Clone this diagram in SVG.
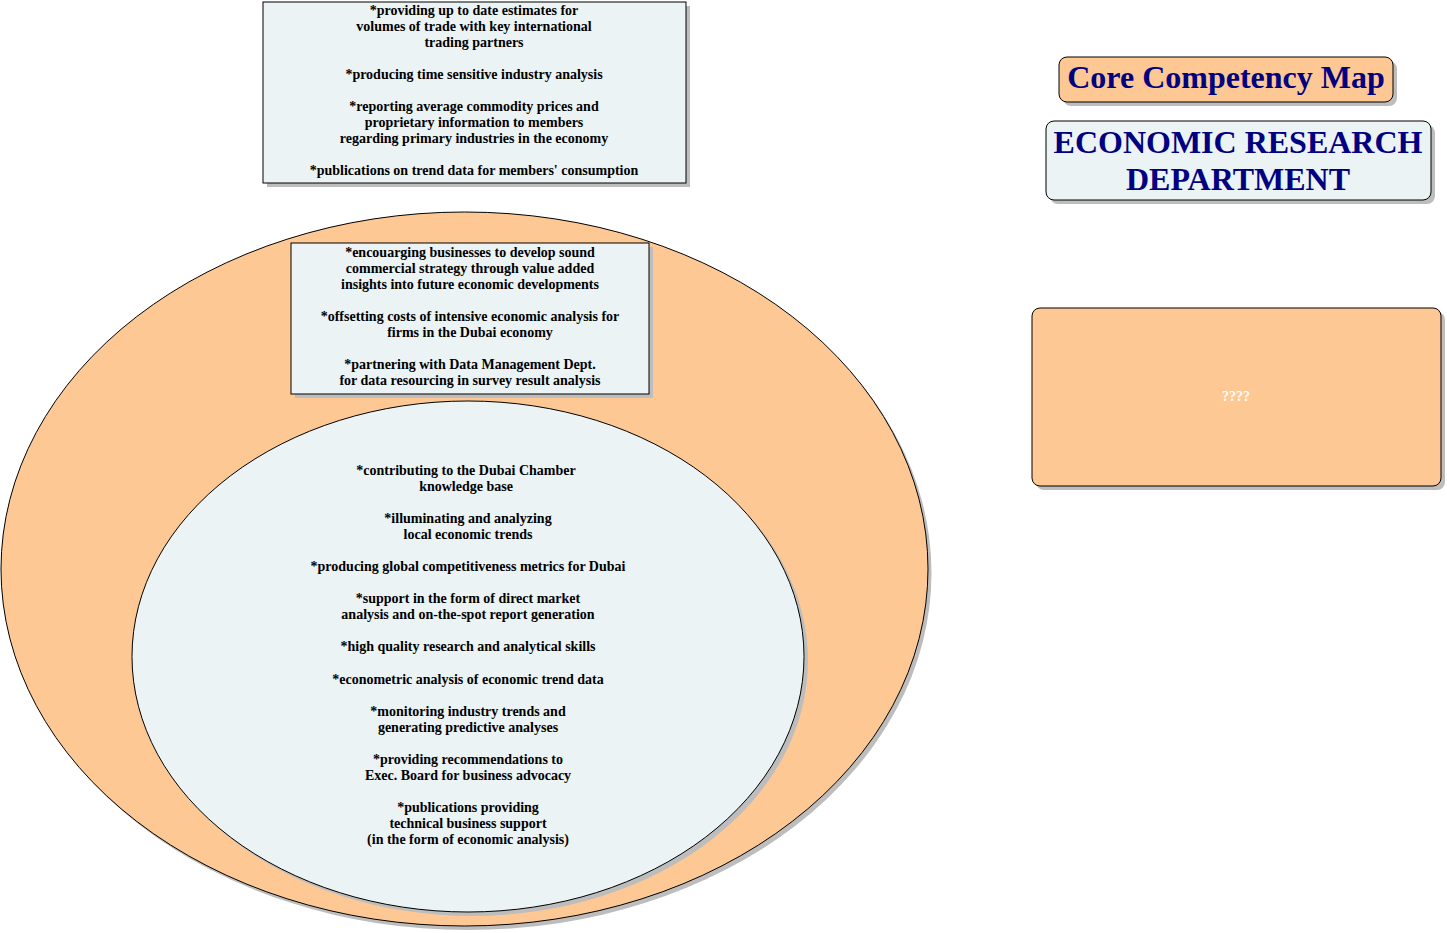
<svg xmlns="http://www.w3.org/2000/svg" width="1447" height="933" viewBox="0 0 1447 933">
<style>
.t{font-family:"Liberation Serif","Times New Roman",serif;font-weight:bold;font-size:14px;fill:#000;text-anchor:middle}
.peach{fill:#FEC894;stroke:#000;stroke-width:1}
.blue{fill:#EBF3F5;stroke:#000;stroke-width:1}
.sh{fill:#BDBDBD}
.h{font-family:"Liberation Serif","Times New Roman",serif;font-weight:bold;fill:#000080;text-anchor:middle}
</style>
<rect width="1447" height="933" fill="#fff"/>
<g id="outer-ellipse">
<ellipse class="sh" cx="468" cy="573" rx="463.5" ry="357"/>
<ellipse class="peach" cx="464.5" cy="569" rx="463.5" ry="357"/>
</g>
<g id="top-box">
<rect class="sh" x="267" y="6" width="423" height="181"/>
<rect class="blue" x="263" y="2" width="423" height="181"/>
<text class="t" x="474" y="14.5">*providing up to date estimates for</text>
<text class="t" x="474" y="30.5">volumes of trade with key international</text>
<text class="t" x="474" y="46.5">trading partners</text>
<text class="t" x="474" y="78.5">*producing time sensitive industry analysis</text>
<text class="t" x="474" y="110.5">*reporting average commodity prices and</text>
<text class="t" x="474" y="126.5">proprietary information to members</text>
<text class="t" x="474" y="142.5">regarding primary industries in the economy</text>
<text class="t" x="474" y="174.5">*publications on trend data for members' consumption</text>
</g>
<g id="middle-box">
<rect class="sh" x="295" y="247" width="358" height="151"/>
<rect class="blue" x="291" y="243" width="358" height="151"/>
<text class="t" x="470" y="256.5">*encouarging businesses to develop sound</text>
<text class="t" x="470" y="272.5">commercial strategy through value added</text>
<text class="t" x="470" y="288.5">insights into future economic developments</text>
<text class="t" x="470" y="320.5">*offsetting costs of intensive economic analysis for</text>
<text class="t" x="470" y="336.5">firms in the Dubai economy</text>
<text class="t" x="470" y="368.5">*partnering with Data Management Dept.</text>
<text class="t" x="470" y="384.5">for data resourcing in survey result analysis</text>
</g>
<g id="inner-ellipse">
<ellipse class="sh" cx="472" cy="660.5" rx="336" ry="255.5"/>
<ellipse class="blue" cx="468" cy="656.5" rx="336" ry="255.5"/>
<text class="t" x="466" y="474.5">*contributing to the Dubai Chamber</text>
<text class="t" x="466" y="490.5">knowledge base</text>
<text class="t" x="468" y="522.5">*illuminating and analyzing</text>
<text class="t" x="468" y="538.5">local economic trends</text>
<text class="t" x="468" y="570.5">*producing global competitiveness metrics for Dubai</text>
<text class="t" x="468" y="602.5">*support in the form of direct market</text>
<text class="t" x="468" y="618.5">analysis and on-the-spot report generation</text>
<text class="t" x="468" y="650.5">*high quality research and analytical skills</text>
<text class="t" x="468" y="683.5">*econometric analysis of economic trend data</text>
<text class="t" x="468" y="715.5">*monitoring industry trends and</text>
<text class="t" x="468" y="731.5">generating predictive analyses</text>
<text class="t" x="468" y="763.5">*providing recommendations to</text>
<text class="t" x="468" y="779.5">Exec. Board for business advocacy</text>
<text class="t" x="468" y="811.5">*publications providing</text>
<text class="t" x="468" y="827.5">technical business support</text>
<text class="t" x="468" y="843.5">(in the form of economic analysis)</text>
</g>
<g id="title">
<rect class="sh" x="1063" y="61" width="334" height="45" rx="8"/>
<rect class="peach" x="1059" y="57" width="334" height="45" rx="8"/>
<text class="h" x="1226" y="88" font-size="32">Core Competency Map</text>
</g>
<g id="department">
<rect class="sh" x="1050" y="125" width="385" height="79" rx="8"/>
<rect class="blue" x="1046" y="121" width="385" height="79" rx="8"/>
<text class="h" x="1238" y="153" font-size="32">ECONOMIC RESEARCH</text>
<text class="h" x="1238" y="190" font-size="32">DEPARTMENT</text>
</g>
<g id="unknown-box">
<rect class="sh" x="1036" y="312" width="409" height="178" rx="8"/>
<rect class="peach" x="1032" y="308" width="409" height="178" rx="8"/>
<text class="t" x="1236" y="400.5" style="fill:#fff">????</text>
</g>
<g id="connectors"></g>
</svg>
